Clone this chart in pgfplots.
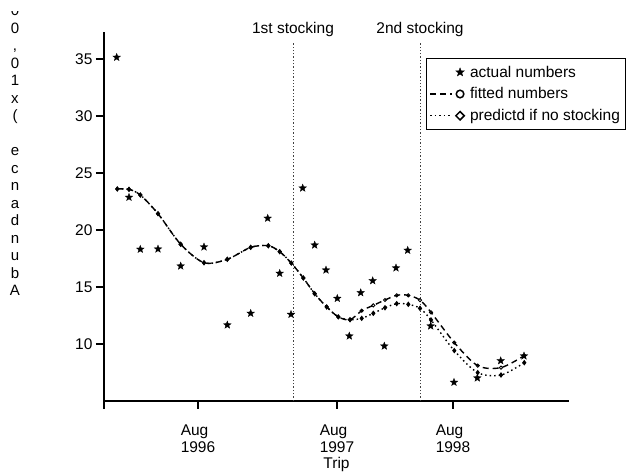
\documentclass[border=0pt]{standalone}
\usepackage{fontspec}
\setmainfont{Liberation Sans}
\usepackage{pgfplots}
\pgfplotsset{compat=1.18}
\pgfdeclareplotmark{fstar}{%
  \pgfpathmoveto{\pgfpointpolar{90}{\pgfplotmarksize}}%
  \pgfpathlineto{\pgfpointpolar{126}{0.42*\pgfplotmarksize}}%
  \pgfpathlineto{\pgfpointpolar{162}{\pgfplotmarksize}}%
  \pgfpathlineto{\pgfpointpolar{198}{0.42*\pgfplotmarksize}}%
  \pgfpathlineto{\pgfpointpolar{234}{\pgfplotmarksize}}%
  \pgfpathlineto{\pgfpointpolar{270}{0.42*\pgfplotmarksize}}%
  \pgfpathlineto{\pgfpointpolar{306}{\pgfplotmarksize}}%
  \pgfpathlineto{\pgfpointpolar{342}{0.42*\pgfplotmarksize}}%
  \pgfpathlineto{\pgfpointpolar{18}{\pgfplotmarksize}}%
  \pgfpathlineto{\pgfpointpolar{54}{0.42*\pgfplotmarksize}}%
  \pgfpathclose
  \pgfusepathqfillstroke}
\pgfplotstableread{
x y
116.7 35.15
129 22.87
140.3 18.31
158 18.33
180.7 16.84
204 18.51
227.3 11.67
250.7 12.69
267.7 21.03
279.7 16.2
291 12.6
302.7 23.68
314.7 18.68
326 16.49
337.3 14.0
349.3 10.7
360.7 14.5
372.7 15.55
384.3 9.82
396 16.67
407.7 18.22
430.7 11.58
454 6.64
477.3 7.02
500.7 8.53
524 8.95
}\actual
\pgfplotstableread{
x y
117.3 23.6
129 23.57
140.3 23.07
158 21.43
180.7 18.75
204 17.13
227.3 17.43
250.7 18.48
268.3 18.62
279.7 18.1
291.3 17.1
303.3 15.79
314.7 14.41
326.7 13.25
338.3 12.38
350 12.13
361.7 12.92
373.3 13.39
385 13.86
396.7 14.27
408.3 14.27
420 13.85
431 12.78
454.3 10.12
477.7 8.1
501 7.93
524.3 8.98
}\fitted
\pgfplotstableread{
x y
117.3 23.6
129 23.57
140.3 23.07
158 21.43
180.7 18.75
204 17.13
227.3 17.43
250.7 18.48
268.3 18.62
279.7 18.1
291.3 17.1
303.3 15.79
314.7 14.41
326.7 13.25
338.3 12.38
350 12.13
361.7 12.25
373.3 12.69
385 13.18
396.7 13.54
408.3 13.48
420 13.13
431 12.11
454.3 9.42
477.7 7.49
501 7.28
524.3 8.36
}\predicted
\begin{document}
\begin{tikzpicture}[font=\fontsize{15.5}{18}\selectfont]
\useasboundingbox (-104pt,-72pt) rectangle (531pt,401pt);
\begin{scope}
\clip (-104pt,-72pt) rectangle (-40pt,389pt);
\node[anchor=north, align=center, inner sep=0pt, font=\fontsize{15}{17.5}\selectfont] at (-89pt,396pt) {0\\0\\,\\0\\1\\x\\(\\~\\e\\c\\n\\a\\d\\n\\u\\b\\A};
\end{scope}
\begin{axis}[
  at={(0pt,0pt)}, anchor=south west,
  scale only axis, width=465pt, height=369pt,
  xmin=104, xmax=569, ymin=5, ymax=37.37,
  axis x line=bottom, axis y line=left,
  axis line style={-, line width=1.6pt},
  tick style={black, line width=1.3pt},
  major tick length=8pt,
  tick align=outside,
  xtick={104,198,337,453},
  xticklabels={{},{Aug\\1996},{Aug\\1997},{Aug\\1998}},
  xticklabel style={align=left, yshift=-12pt},
  ytick={10,15,20,25,30,35},
  /pgf/number format/assume math mode=true,
  tick label style={font=\fontsize{15.5}{17}\selectfont},
  xlabel={Trip},
  xlabel style={yshift=2pt},
  clip=false,
  legend style={at={(0.6925,0.9295)}, anchor=north west, draw=black, line width=0.8pt,
    font=\fontsize{15.5}{18}\selectfont, inner xsep=3pt, inner ysep=5.5pt, row sep=5pt,
    /tikz/every odd column/.append style={column sep=3pt}},
  legend cell align=left,
]
\addplot[black!75, line width=1pt, dash pattern=on 1.3pt off 2pt, forget plot] coordinates {(293,5) (293,36.49)};
\addplot[black!75, line width=1pt, dash pattern=on 1.3pt off 2pt, forget plot] coordinates {(420,5) (420,36.49)};
\node[anchor=base] at (axis cs:293,37.24) {1st stocking};
\node[anchor=base] at (axis cs:420,37.24) {2nd stocking};
\addplot[only marks, mark=fstar, mark size=4pt, draw=black, mark options={fill=black, line width=0.3pt},
  legend image code/.code={\path[draw=none, fill=none] (0pt,-4pt) rectangle (34pt,4pt);
    \begin{scope}[shift={(30pt,0pt)}]\pgfsetfillcolor{black}\pgfsetlinewidth{0.3pt}\pgfsetplotmarksize{4.5pt}\pgfuseplotmark{fstar}\end{scope}}]
  table[x=x,y=y] {\actual};
\addlegendentry{actual numbers}
\addplot[black, line width=1.4pt, smooth, dash pattern=on 6pt off 4pt, mark=o, mark size=1.6pt, mark options={solid, fill=white, line width=0.9pt},
  legend image code/.code={\draw[line width=1.3pt, dash pattern=on 6pt off 4pt] (0pt,0pt) -- (22pt,0pt);
    \draw[line width=1.5pt, fill=white, solid] (30pt,0pt) circle (3.8pt);}]
  table[x=x,y=y] {\fitted};
\addlegendentry{fitted numbers}
\addplot[black, line width=1.4pt, smooth, dash pattern=on 1.5pt off 3pt, mark=diamond*, mark size=1.7pt, mark options={solid},
  legend image code/.code={\draw[line width=1.3pt, dash pattern=on 1.5pt off 3pt] (0pt,0pt) -- (22pt,0pt);
    \draw[line width=1.5pt, fill=white, solid] (30pt,4.2pt) -- (34.2pt,0pt) -- (30pt,-4.2pt) -- (25.8pt,0pt) -- cycle;}]
  table[x=x,y=y] {\predicted};
\addlegendentry{predictd if no stocking}
\end{axis}
\end{tikzpicture}
\end{document}
